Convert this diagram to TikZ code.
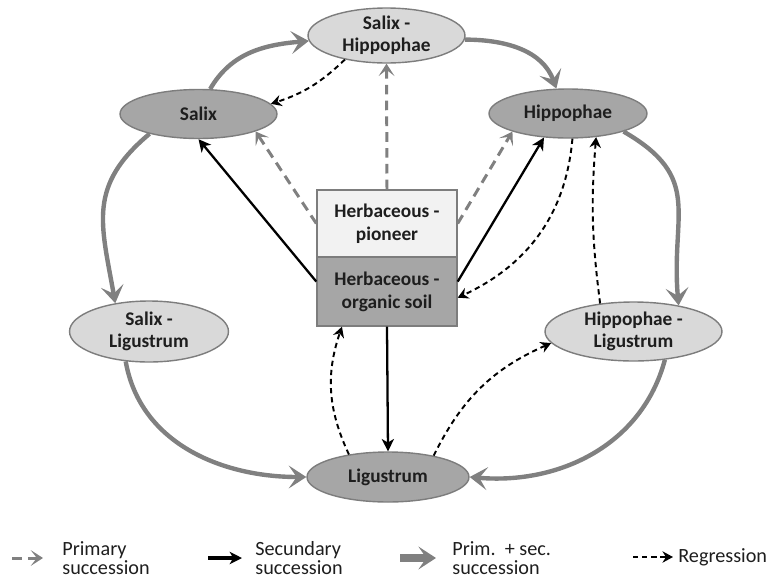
\documentclass[tikz,border=0pt]{standalone}
\usepackage{fontspec}
\setmainfont{Carlito}
\usetikzlibrary{shapes.geometric,arrows.meta}
\definecolor{dkfill}{RGB}{166,166,166}
\definecolor{ltfill}{RGB}{217,217,217}
\definecolor{pale}{RGB}{242,242,242}
\definecolor{rim}{RGB}{125,125,125}
\definecolor{arrgray}{RGB}{128,128,128}
\definecolor{ink}{RGB}{30,30,30}
\tikzset{
  stand/.style={ellipse,draw=rim,line width=0.8pt,inner sep=0pt,align=center,text=ink,
    font=\fontsize{11}{12.3}\selectfont\bfseries},
  dark/.style={stand,fill=dkfill},
  light/.style={stand,fill=ltfill},
  herb/.style={rectangle,draw=rim,line width=0.8pt,minimum width=2.8cm,inner sep=0pt,align=center,text=ink,
    font=\fontsize{11}{13}\selectfont\bfseries},
  primary/.style={draw=arrgray,line width=1.7pt,dash pattern=on 5.5pt off 3.5pt,
    -{Stealth[length=7pt,width=9pt,inset=3.5pt]}},
  secundary/.style={draw=black,line width=1.3pt,-{Stealth[length=7pt,width=7pt,inset=2pt]}},
  primsec/.style={draw=arrgray,line width=2.5pt,-{Stealth[length=10pt,width=13pt,inset=4.5pt]}},
  regression/.style={draw=black,line width=1.1pt,dash pattern=on 3pt off 2.2pt,
    -{Stealth[length=6pt,width=6.5pt,inset=2pt]}},
  legtext/.style={anchor=west,inner sep=0pt,align=left,text=ink,font=\fontsize{11.5}{10.5}\selectfont}
}
\begin{document}
\begin{tikzpicture}[x=0.02cm,y=-0.02cm]
\useasboundingbox (0,0) rectangle (775,579);
% stages
\node[light,minimum width=3.14cm,minimum height=1.1cm] (sh) at (386.5,35.5) {Salix -\\Hippophae};
\node[dark,minimum width=3.14cm,minimum height=0.98cm] (sa) at (198.5,114) {Salix};
\node[dark,minimum width=3.16cm,minimum height=0.98cm] (hi) at (568,113.5) {Hippophae};
\node[herb,fill=pale,minimum height=1.34cm] (bp) at (387,223.5) {Herbaceous -\\pioneer};
\node[herb,fill=dkfill,minimum height=1.38cm] (bo) at (387,291.5) {Herbaceous -\\organic soil};
\node[light,minimum width=3.18cm,minimum height=1.22cm] (sl) at (149,331.5) {Salix -\\Ligustrum};
\node[light,minimum width=3.54cm,minimum height=1.18cm] (hl) at (633.5,331.5) {Hippophae -\\Ligustrum};
\node[dark,minimum width=3.24cm,minimum height=1.0cm] (li) at (388,477) {Ligustrum};
% prim. + sec. succession
\draw[primsec] (sa.65) to[out=60,in=185] (sh.184);
\draw[primsec] (sh.-3) to[out=0,in=110] (hi.115);
\draw[primsec] (hi.-18) to[out=-30,in=95,looseness=1.3] (hl.30);
\draw[primsec] (hl.-42) to[out=-105,in=-5] (li.east);
\draw[primsec] (sl.-128) to[out=-80,in=180] (li.west);
\draw[primsec] (sa.-158) to[out=-140,in=100,looseness=1.2] (sl.140);
% primary succession
\draw[primary] (bp.north) -- (sh.south);
\draw[primary] (bp.west) -- (sa.-17);
\draw[primary] (bp.east) -- (hi.-162);
% secundary succession
\draw[secundary] (bo.172) -- (sa.south);
\draw[secundary] (bo.8) -- (hi.-135);
\draw[secundary] (bo.south) -- (li.north);
% regression
\draw[regression] (sh.-150) to[bend left=13] (sa.8);
\draw[regression] (hi.-80) to[out=-95,in=25] (bo.-5);
\draw[regression] (hl.140) to[bend left=6] (hi.-40);
\draw[regression] (li.150) to[bend left=22] (bo.-142);
\draw[regression] (li.25) to[bend left=20] (hl.-172);
% legend
\coordinate (lp0) at (12,558); \coordinate (lp1) at (43,558);
\coordinate (ls0) at (208,558); \coordinate (ls1) at (242,558);
\coordinate (lb0) at (400,558); \coordinate (lb1) at (436,558);
\coordinate (lr0) at (633,557); \coordinate (lr1) at (673,557);
\draw[primary] (lp0) -- (lp1);
\draw[secundary,line width=2pt] (ls0) -- (ls1);
\draw[primsec,line width=4pt] (lb0) -- (lb1);
\draw[regression] (lr0) -- (lr1);
\node[legtext] (lpt) at (62,558) {Primary\\succession};
\node[legtext] (lst) at (255,558) {Secundary\\succession};
\node[legtext] (lbt) at (452,558) {Prim.\ \ + sec.\\succession};
\node[legtext] (lrt) at (678,557) {Regression};
\end{tikzpicture}
\end{document}
